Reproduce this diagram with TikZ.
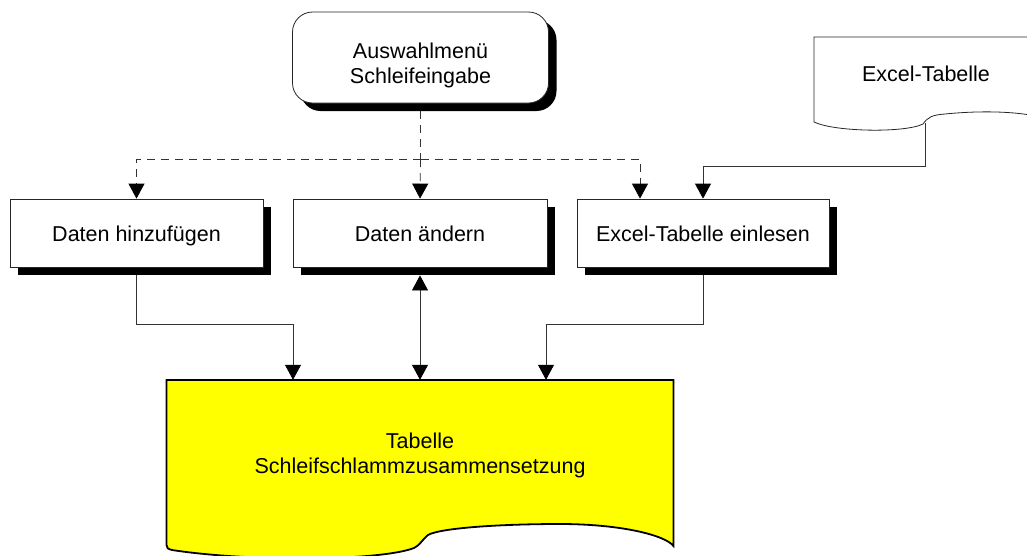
\documentclass[tikz,border=0pt]{standalone}
\usepackage{fontspec}
\setmainfont{Liberation Sans}
\usetikzlibrary{arrows.meta,shadows}
\definecolor{tabyellow}{RGB}{255,255,0}
\begin{document}
\begin{tikzpicture}[x=1pt,y=-1pt,
  every node/.style={font=\fontsize{21.5}{25}\selectfont},
  shade box/.style={draw=black!85,line width=0.8pt,fill=white,
    drop shadow={shadow xshift=8pt,shadow yshift=-8pt,fill=black,opacity=1}},
  stepbox/.style={shade box,rectangle,minimum height=68pt,inner sep=0pt,
    text height=19pt,text depth=2pt},
  link/.style={draw=black!80,line width=0.8pt},
  tip/.style={-{Triangle[length=15pt,width=16pt,color=black]}},
  twotip/.style={{Triangle[length=15pt,width=16pt,color=black]}-{Triangle[length=15pt,width=16pt,color=black]}},
  dashlink/.style={link,dash pattern=on 8pt off 6pt}]
\useasboundingbox (0,0) rectangle (1027,555);

% menu
\node[shade box,rounded corners=20pt,minimum width=256pt,minimum height=91pt,
      align=center,inner sep=0pt,text height=55pt,text depth=4pt] (menu) at (420.5,57.5)
      {Auswahlmenü\\Schleifeingabe};

% process steps
\node[stepbox,minimum width=253pt] (add) at (136.5,233) {Daten hinzufügen};
\node[stepbox,minimum width=254pt] (edit) at (420,233) {Daten ändern};
\node[stepbox,minimum width=252pt] (import) at (703,233) {Excel-Tabelle einlesen};

% Excel document
\draw[draw=black!85,line width=0.8pt,fill=white]
  (814,37) -- (814,122)
  .. controls (835,132) and (905,133) .. (923,124)
  .. controls (928,117) and (932,115) .. (945,114)
  .. controls (985,110) and (1020,112) .. (1040,117)
  -- (1040,37) -- cycle;
\node (xl) at (926,74) {Excel-Tabelle};
\coordinate (xlout) at (925,123);

% result table document
\node[minimum width=507pt,minimum height=166pt,inner sep=0pt] (table) at (420,463) {};
\draw[line width=1.8pt,fill=tabyellow]
  (166.5,380) -- (673.5,380) -- (673.5,546)
  .. controls (665,535) and (620,524) .. (560,524)
  .. controls (500,524) and (440,528) .. (428,535)
  .. controls (422,540) and (420,545) .. (414,548)
  .. controls (380,561) and (250,562) .. (172,550)
  .. controls (168,549) and (166.5,548) .. (166.5,545) -- cycle;
\node[align=center] (tablabel) at (420,455) {Tabelle\\Schleifschlammzusammensetzung};

% menu choices
\coordinate (split) at (420.5,159);
\draw[dashlink] ([yshift=-8pt]menu.south) -- (split);
\draw[dashlink,tip] (split) -| (add.north);
\draw[dashlink,tip] (split) -- (edit.north);
\draw[dashlink,tip] (split) -| ([xshift=-63pt]import.north);

% data flow
\draw[link,tip] (xlout) -- ++(0,43) -| (import.north);
\draw[link,tip] ([yshift=-8pt]add.south) -- ++(0,49) -| ([xshift=-127pt]table.north);
\draw[link,twotip] ([yshift=-8pt]edit.south) -- (table.north);
\draw[link,tip] ([yshift=-8pt]import.south) -- ++(0,49) -| ([xshift=126pt]table.north);
\end{tikzpicture}
\end{document}
